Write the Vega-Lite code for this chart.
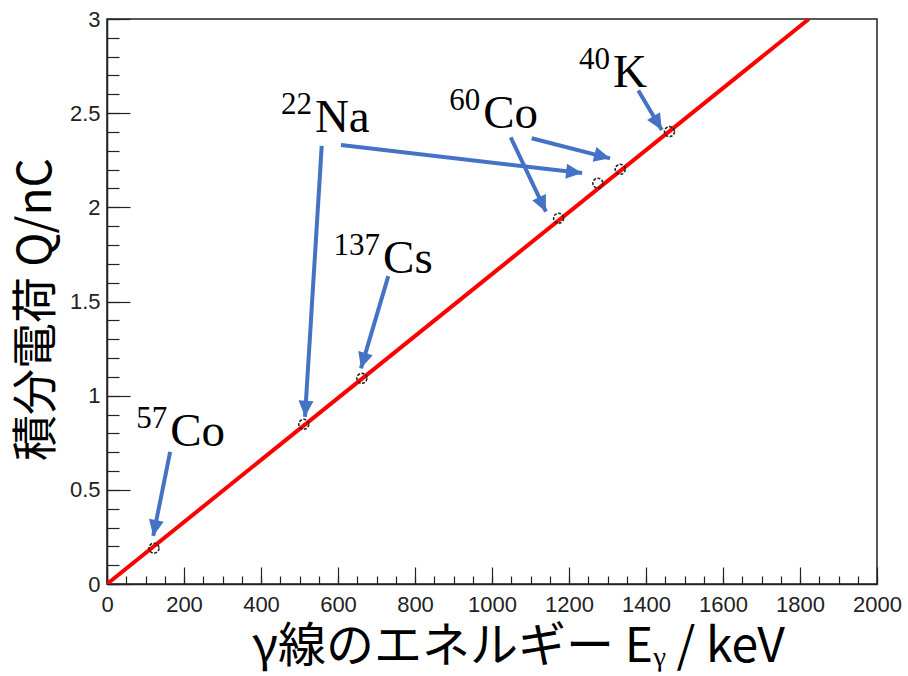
{
  "$schema": "https://vega.github.io/schema/vega-lite/v6.json",
  "width": 770,
  "height": 565,
  "autosize": {"type": "none"},
  "padding": {"left": 107, "top": 19, "right": 31, "bottom": 92},
  "background": "white",
  "config": {
    "view": {"stroke": "#222", "strokeWidth": 1.5},
    "axis": {"grid": false, "domainColor": "#222", "domainWidth": 1.5, "tickColor": "#222", "tickWidth": 1.2}
  },
  "datasets": {
    "fit": [{"E": 0, "Q": 0.0}, {"E": 1823, "Q": 3.0}],
    "pts": [
      {"E": 122, "Q": 0.19, "src": "57Co"},
      {"E": 511, "Q": 0.848, "src": "22Na"},
      {"E": 662, "Q": 1.092, "src": "137Cs"},
      {"E": 1173, "Q": 1.942, "src": "60Co"},
      {"E": 1275, "Q": 2.128, "src": "22Na"},
      {"E": 1333, "Q": 2.202, "src": "60Co"},
      {"E": 1461, "Q": 2.402, "src": "40K"}
    ],
    "arrows": [
      {"x": 164, "y": 0.701, "x2": 120, "y2": 0.255},
      {"x": 557.7, "y": 2.326, "x2": 514.3, "y2": 0.888},
      {"x": 607.8, "y": 2.331, "x2": 1234, "y2": 2.182},
      {"x": 730.6, "y": 1.635, "x2": 659.7, "y2": 1.145},
      {"x": 1048.6, "y": 2.372, "x2": 1140, "y2": 1.977},
      {"x": 1103, "y": 2.367, "x2": 1306.5, "y2": 2.26},
      {"x": 1380, "y": 2.62, "x2": 1441, "y2": 2.411}
    ],
    "labels": [
      {"mass": "57", "el": "Co", "E": 164, "Q": 0.733},
      {"mass": "22", "el": "Na", "E": 540, "Q": 2.40},
      {"mass": "137", "el": "Cs", "E": 717, "Q": 1.651},
      {"mass": "60", "el": "Co", "E": 977, "Q": 2.421},
      {"mass": "40", "el": "K", "E": 1314, "Q": 2.639}
    ]
  },
  "layer": [
    {
      "data": {"name": "fit"},
      "mark": {"type": "line", "color": "#ff0000", "strokeWidth": 4, "clip": true},
      "encoding": {
        "x": {"field": "E", "type": "quantitative", "scale": {"domain": [0, 2000], "nice": false, "zero": false},
          "axis": {"orient": "bottom", "values": [0, 200, 400, 600, 800, 1000, 1200, 1400, 1600, 1800, 2000], "ticks": false, "format": "d",
            "labelFont": "Liberation Sans", "labelFontSize": 22, "labelColor": "#222", "labelPadding": 10, "labelFlush": false, "labelOverlap": false,
            "title": "γ線のエネルギー Eᵧ / keV", "titleFont": "Noto Sans CJK JP", "titleFontSize": 48, "titleFontWeight": "normal", "titleColor": "#000", "titlePadding": 8, "titleX": 411}},
        "y": {"field": "Q", "type": "quantitative", "scale": {"domain": [0, 3], "nice": false, "zero": false},
          "axis": {"orient": "left", "values": [0, 0.5, 1, 1.5, 2, 2.5, 3], "ticks": false, "format": "~g",
            "labelFont": "Liberation Sans", "labelFontSize": 22, "labelColor": "#222", "labelPadding": 7, "labelFlush": false, "labelOverlap": false,
            "title": "積分電荷 Q/nC", "titleFont": "Noto Sans CJK JP", "titleFontSize": 46, "titleFontWeight": "normal", "titleColor": "#000", "titlePadding": 9, "titleY": 290}}
      }
    },
    {
      "data": {"name": "pts"},
      "mark": {"type": "point", "shape": "circle", "size": 100, "stroke": "#222", "strokeWidth": 1.6, "strokeDash": [3, 1.5], "filled": false, "opacity": 1},
      "encoding": {
        "x": {"field": "E", "type": "quantitative", "scale": {"domain": [0, 2000], "nice": false, "zero": false},
          "axis": {"orient": "bottom", "values": [0, 200, 400, 600, 800, 1000, 1200, 1400, 1600, 1800, 2000], "labels": false, "domain": false, "tickSize": -17, "title": null}},
        "y": {"field": "Q", "type": "quantitative", "scale": {"domain": [0, 3], "nice": false, "zero": false},
          "axis": {"orient": "left", "values": [0, 0.5, 1, 1.5, 2, 2.5, 3], "labels": false, "domain": false, "tickSize": -23, "title": null}}
      }
    },
    {
      "data": {"name": "arrows"},
      "mark": {"type": "rule", "color": "#4472C4", "strokeWidth": 4},
      "encoding": {
        "x": {"field": "x", "type": "quantitative", "scale": {"domain": [0, 2000], "nice": false, "zero": false},
          "axis": {"orient": "bottom", "values": [0, 50, 100, 150, 200, 250, 300, 350, 400, 450, 500, 550, 600, 650, 700, 750, 800, 850, 900, 950, 1000, 1050, 1100, 1150, 1200, 1250, 1300, 1350, 1400, 1450, 1500, 1550, 1600, 1650, 1700, 1750, 1800, 1850, 1900, 1950, 2000], "labels": false, "domain": false, "tickSize": -8, "title": null}},
        "y": {"field": "y", "type": "quantitative", "scale": {"domain": [0, 3], "nice": false, "zero": false},
          "axis": {"orient": "left", "values": [0, 0.1, 0.2, 0.3, 0.4, 0.5, 0.6, 0.7, 0.8, 0.9, 1, 1.1, 1.2, 1.3, 1.4, 1.5, 1.6, 1.7, 1.8, 1.9, 2, 2.1, 2.2, 2.3, 2.4, 2.5, 2.6, 2.7, 2.8, 2.9, 3], "labels": false, "domain": false, "tickSize": -12, "title": null}},
        "x2": {"field": "x2"},
        "y2": {"field": "y2"}
      }
    },
    {
      "data": {"name": "arrows"},
      "transform": [{"calculate": "atan2((datum.x2 - datum.x) * 0.385, (datum.y2 - datum.y) * 188.33) * 180 / PI", "as": "ang"}],
      "mark": {"type": "point", "shape": "M0,0L-0.47,1L0.47,1Z", "size": 1024, "filled": true, "color": "#4472C4", "opacity": 1, "strokeWidth": 0},
      "encoding": {
        "x": {"field": "x2", "type": "quantitative", "scale": {"domain": [0, 2000], "nice": false, "zero": false}, "axis": null},
        "y": {"field": "y2", "type": "quantitative", "scale": {"domain": [0, 3], "nice": false, "zero": false}, "axis": null},
        "angle": {"field": "ang", "type": "quantitative", "scale": null}
      }
    },
    {
      "data": {"name": "labels"},
      "mark": {"type": "text", "font": "Liberation Serif", "fontSize": 31, "align": "right", "baseline": "alphabetic", "dx": -3, "dy": -18, "color": "#000"},
      "encoding": {
        "x": {"field": "E", "type": "quantitative", "scale": {"domain": [0, 2000], "nice": false, "zero": false}, "axis": null},
        "y": {"field": "Q", "type": "quantitative", "scale": {"domain": [0, 3], "nice": false, "zero": false}, "axis": null},
        "text": {"field": "mass"}
      }
    },
    {
      "data": {"name": "labels"},
      "mark": {"type": "text", "font": "Liberation Serif", "fontSize": 47, "align": "left", "baseline": "alphabetic", "color": "#000"},
      "encoding": {
        "x": {"field": "E", "type": "quantitative", "scale": {"domain": [0, 2000], "nice": false, "zero": false}, "axis": null},
        "y": {"field": "Q", "type": "quantitative", "scale": {"domain": [0, 3], "nice": false, "zero": false}, "axis": null},
        "text": {"field": "el"}
      }
    }
  ],
  "resolve": {"axis": {"x": "independent", "y": "independent"}}
}
